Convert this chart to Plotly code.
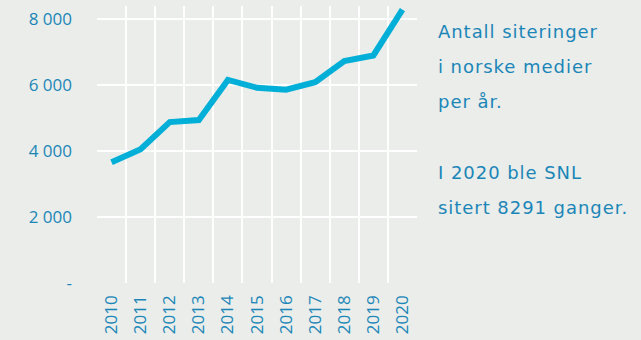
import plotly.graph_objects as go

years = ["2010", "2011", "2012", "2013", "2014", "2015", "2016", "2017", "2018", "2019", "2020"]
citations = [3660, 4060, 4880, 4940, 6160, 5920, 5860, 6090, 6730, 6900, 8291]

y_tick_vals = [0, 2000, 4000, 6000, 8000]
y_tick_text = ["-", "2 000", "4 000", "6 000", "8 000"]

side_text = [
    "Antall siteringer",
    "i norske medier",
    "per år.",
    "",
    "I 2020 ble SNL",
    "sitert 8291 ganger.",
]

BG = "#ebedea"
BLUE_TEXT = "#1a86b8"
LINE = "#00afd7"
FONT = "Open Sans"
SIDE_FONT = "DejaVu Sans"

x_pos = list(range(len(years)))

fig = go.Figure()
fig.add_trace(go.Scatter(
    x=x_pos, y=citations, mode="lines",
    line=dict(color=LINE, width=6),
    hoverinfo="skip",
))

# plot area: 97..417 px horizontally, 6..283 px vertically
L, R, T, B = 97, 224, 6, 57
W, H = 641, 340
plot_w = W - L - R
plot_h = H - T - B

annotations = []
line_y = [31.5, 66.5, 101.5, 137, 172.5, 207]
for txt, ypix in zip(side_text, line_y):
    if not txt:
        continue
    annotations.append(dict(
        text=f'<span style="letter-spacing:0.95px">{txt}</span>',
        xref="paper", yref="paper",
        x=(436 - L) / plot_w, y=(H - B - ypix) / plot_h,
        xanchor="left", yanchor="middle", showarrow=False,
        font=dict(family=SIDE_FONT, size=18, color=BLUE_TEXT),
    ))

fig.update_layout(
    width=W, height=H,
    margin=dict(l=L, r=R, t=T, b=B),
    paper_bgcolor=BG, plot_bgcolor=BG,
    showlegend=False,
    annotations=annotations,
    xaxis=dict(
        range=[-0.5, len(years) - 0.5],
        tickvals=x_pos, ticktext=years, tickangle=-90,
        showgrid=False, zeroline=False, showline=False, ticks="",
        tickfont=dict(family=FONT, size=17, color=BLUE_TEXT),
        ticklabelstandoff=8,
        minor=dict(
            tickvals=[i - 0.5 for i in range(len(years) + 1)],
            showgrid=True, gridcolor="white", gridwidth=1.5, ticks="",
        ),
    ),
    yaxis=dict(
        range=[0, 8400],
        tickvals=y_tick_vals, ticktext=y_tick_text,
        showgrid=True, gridcolor="white", gridwidth=1.5,
        zeroline=False, showline=False, ticks="",
        tickfont=dict(family=FONT, size=17, color=BLUE_TEXT),
        ticklabelstandoff=24,
    ),
)

fig.write_html("out.html")
